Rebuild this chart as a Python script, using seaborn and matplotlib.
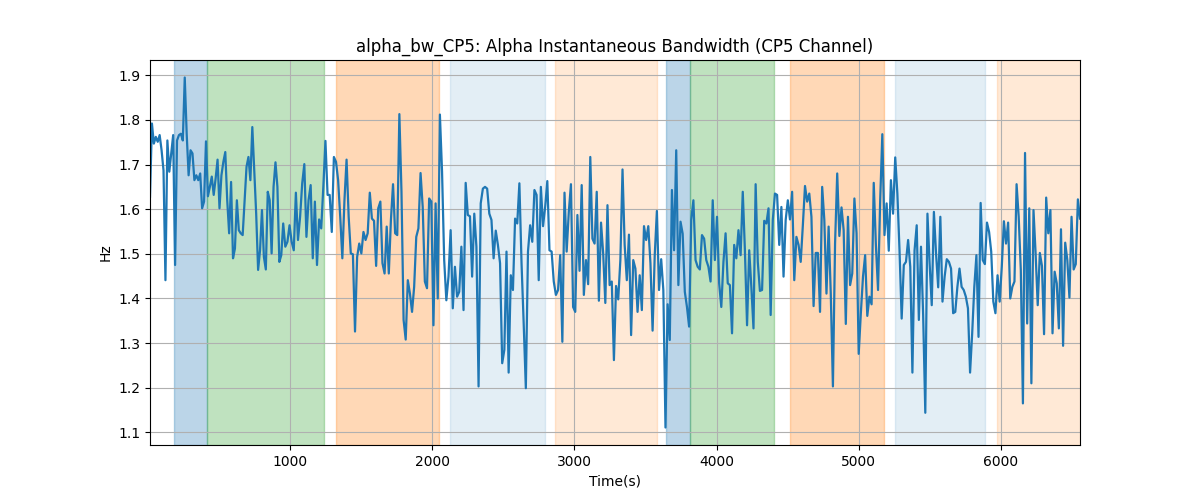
import numpy as np
import pandas as pd
import matplotlib
matplotlib.use("Agg")
import matplotlib.pyplot as plt
import seaborn as sns

# Segment start times (s) and final time
seg_bounds = [14, 951, 1887, 2824, 3761, 4697, 5634, 6556]

seg1 = [1.628,1.792,1.747,1.762,1.751,1.766,1.732,1.687,1.441,1.754,1.684,1.725,1.766,1.475,1.754,1.766,1.769,1.754,1.895,1.769,1.676,1.732,1.725,1.665,1.676,1.665,1.680,1.602,1.617,1.752,1.629,1.650,1.673,1.632,1.669,1.711,1.602,1.676,1.706,1.728,1.620,1.546,1.661,1.490,1.512,1.620,1.553,1.546,1.542,1.620,1.695,1.717,1.665,1.784,1.687,1.590,1.464,1.508,1.598,1.493,1.465,1.639,1.620,1.501,1.650,1.705,1.650,1.482,1.497]
seg2 = [1.568,1.516,1.527,1.564,1.527,1.508,1.637,1.531,1.583,1.658,1.701,1.538,1.620,1.654,1.490,1.617,1.475,1.577,1.557,1.650,1.753,1.632,1.632,1.549,1.717,1.706,1.665,1.583,1.490,1.620,1.711,1.583,1.501,1.499,1.326,1.493,1.523,1.501,1.549,1.531,1.546,1.637,1.579,1.574,1.473,1.602,1.617,1.479,1.456,1.561,1.456,1.576,1.656,1.546,1.542,1.813,1.639,1.352,1.308,1.441,1.411,1.370,1.426]
seg3 = [1.538,1.557,1.681,1.605,1.438,1.423,1.624,1.617,1.340,1.613,1.400,1.812,1.684,1.486,1.396,1.449,1.553,1.378,1.471,1.404,1.415,1.516,1.374,1.659,1.587,1.584,1.449,1.590,1.516,1.203,1.613,1.646,1.650,1.646,1.590,1.576,1.490,1.552,1.520,1.479,1.255,1.285,1.505,1.234,1.452,1.419,1.579,1.568,1.658,1.479,1.344,1.199,1.505,1.564,1.527,1.643,1.632,1.441,1.650,1.562,1.605,1.663]
seg4 = [1.508,1.505,1.438,1.408,1.419,1.497,1.303,1.637,1.505,1.594,1.656,1.381,1.370,1.587,1.462,1.654,1.408,1.486,1.432,1.717,1.534,1.523,1.639,1.395,1.570,1.501,1.390,1.609,1.430,1.438,1.262,1.428,1.398,1.486,1.689,1.520,1.441,1.543,1.318,1.486,1.467,1.370,1.452,1.374,1.562,1.531,1.562,1.479,1.328,1.497,1.596,1.419,1.488,1.419,1.111,1.387,1.307,1.643,1.508,1.732,1.430,1.572]
seg5 = [1.545,1.415,1.381,1.337,1.576,1.620,1.486,1.471,1.465,1.542,1.534,1.486,1.471,1.438,1.620,1.486,1.583,1.434,1.381,1.482,1.546,1.434,1.430,1.322,1.520,1.490,1.553,1.497,1.639,1.508,1.340,1.508,1.426,1.333,1.656,1.482,1.417,1.419,1.574,1.568,1.602,1.363,1.576,1.635,1.632,1.520,1.605,1.449,1.576,1.620,1.577,1.639,1.441,1.538,1.520,1.482,1.564,1.652,1.617,1.635,1.583,1.383]
seg6 = [1.502,1.502,1.370,1.650,1.576,1.411,1.561,1.411,1.203,1.523,1.680,1.540,1.604,1.553,1.343,1.583,1.430,1.456,1.624,1.546,1.276,1.367,1.449,1.497,1.361,1.404,1.387,1.659,1.520,1.419,1.620,1.768,1.542,1.613,1.507,1.665,1.590,1.716,1.635,1.508,1.355,1.475,1.482,1.531,1.471,1.234,1.508,1.564,1.352,1.516,1.363,1.144,1.590,1.479,1.385,1.594,1.501,1.425,1.583,1.393,1.449,1.488]
seg7 = [1.482,1.467,1.367,1.370,1.426,1.467,1.426,1.419,1.404,1.378,1.234,1.322,1.426,1.497,1.314,1.614,1.486,1.477,1.570,1.549,1.505,1.393,1.367,1.452,1.393,1.471,1.573,1.523,1.570,1.400,1.426,1.438,1.656,1.583,1.464,1.165,1.726,1.344,1.602,1.210,1.598,1.501,1.385,1.502,1.473,1.320,1.626,1.546,1.598,1.322,1.460,1.434,1.333,1.555,1.294,1.525,1.486,1.402,1.583,1.465,1.477,1.622,1.579]

segments = [seg1, seg2, seg3, seg4, seg5, seg6, seg7]

# Shaded intervals (start, end, color, alpha)
span_starts = [183, 418, 1322, 2127, 2866, 3646, 3812, 4519, 5254, 5972]
span_ends   = [418, 1237, 2047, 2796, 3582, 3812, 4406, 5174, 5885, 6600]
span_colors = ["tab:blue", "tab:green", "tab:orange", "tab:blue", "tab:orange",
               "tab:blue", "tab:green", "tab:orange", "tab:blue", "tab:orange"]
span_alphas = [0.3, 0.3, 0.3, 0.12, 0.17, 0.3, 0.3, 0.3, 0.12, 0.17]

times = []
vals = []
for i, seg in enumerate(segments):
    last = (i == len(segments) - 1)
    t = np.linspace(seg_bounds[i], seg_bounds[i + 1], len(seg), endpoint=last)
    times.extend(t)
    vals.extend(seg)

df = pd.DataFrame({"Time(s)": times, "Hz": vals})

fig, ax = plt.subplots(figsize=(12, 5), dpi=100)
for s, e, c, a in zip(span_starts, span_ends, span_colors, span_alphas):
    ax.axvspan(s, e, color=c, alpha=a)

sns.lineplot(data=df, x="Time(s)", y="Hz", ax=ax, color="tab:blue", linewidth=1.6)

ax.set_xlim(df["Time(s)"].min(), df["Time(s)"].max())
ax.grid(True)
ax.set_title("alpha_bw_CP5: Alpha Instantaneous Bandwidth (CP5 Channel)")
ax.set_xlabel("Time(s)")
ax.set_ylabel("Hz")

fig.savefig("out.png", dpi=100)
